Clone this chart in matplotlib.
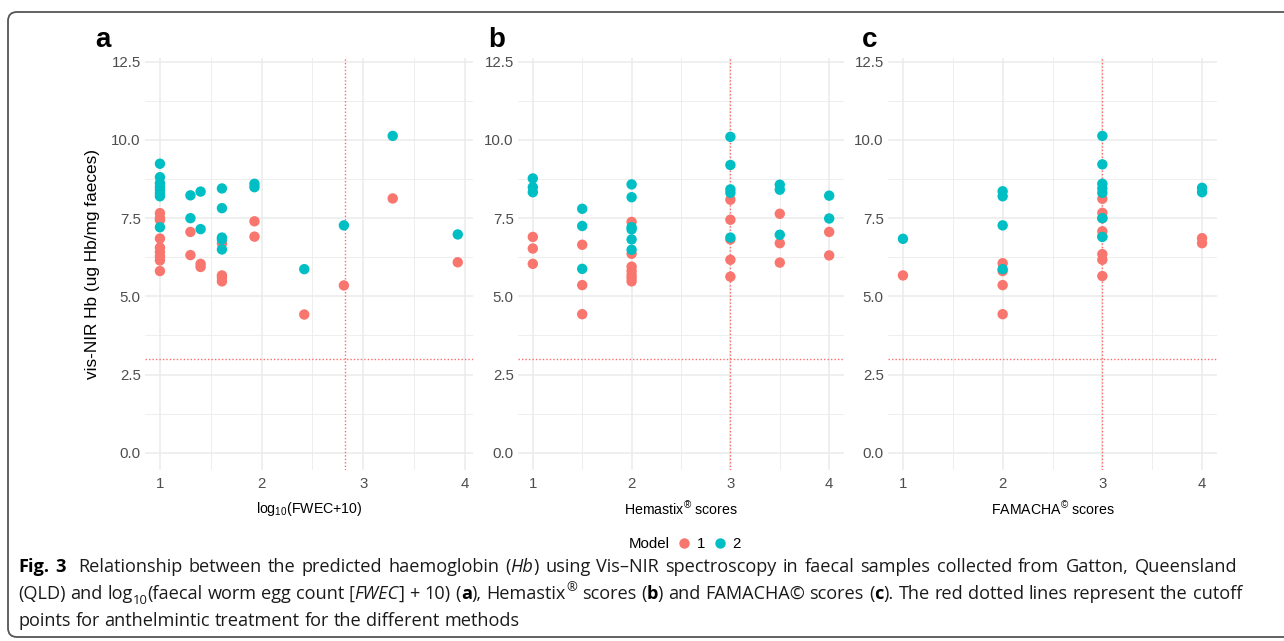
import matplotlib
matplotlib.use("Agg")
import matplotlib.pyplot as plt
from matplotlib.patches import FancyBboxPatch
from matplotlib.lines import Line2D
from matplotlib.transforms import IdentityTransform
from matplotlib import font_manager
import numpy as np

W, H = 1284, 641
DPI = 100

# ---------------- data ----------------
# Panel a: log10(FWEC+10)
a_m1_x = [1, 1, 1, 1, 1, 1, 1, 1, 1, 1.3, 1.3, 1.4, 1.4, 1.61, 1.61, 1.61, 1.61,
          1.93, 1.93, 2.42, 2.81, 3.29, 3.93]
a_m1_y = [7.66, 7.50, 7.44, 6.85, 6.56, 6.42, 6.28, 6.15, 5.81, 7.06, 6.32, 6.04, 5.94,
          6.69, 5.67, 5.59, 5.48, 7.40, 6.91, 4.42, 5.35, 8.13, 6.09]
a_m2_x = [1, 1, 1, 1, 1, 1, 1, 1, 1.3, 1.3, 1.4, 1.4, 1.61, 1.61, 1.61, 1.61, 1.61,
          1.93, 1.93, 2.42, 2.81, 3.29, 3.93]
a_m2_y = [9.24, 8.81, 8.62, 8.50, 8.40, 8.30, 8.20, 7.21, 8.23, 7.50, 8.35, 7.15,
          8.45, 7.82, 6.88, 6.82, 6.50, 8.60, 8.49, 5.87, 7.27, 10.13, 6.98]

# Panel b: Hemastix scores
b_m1_x = [1, 1, 1, 1.5, 1.5, 1.5, 2, 2, 2, 2, 2, 2, 2, 3, 3, 3, 3, 3, 3.5, 3.5, 3.5, 4, 4]
b_m1_y = [6.90, 6.53, 6.04, 6.65, 5.36, 4.43, 7.38, 6.36, 5.95, 5.82, 5.69, 5.59, 5.48,
          8.09, 7.45, 6.82, 6.17, 5.63, 7.64, 6.70, 6.08, 7.06, 6.31]
b_m2_x = [1, 1, 1, 1.5, 1.5, 1.5, 2, 2, 2, 2, 2, 2, 3, 3, 3, 3, 3, 3.5, 3.5, 3.5, 4, 4]
b_m2_y = [8.77, 8.49, 8.33, 7.80, 7.25, 5.88, 8.58, 8.17, 7.21, 7.14, 6.82, 6.49,
          10.10, 9.20, 8.42, 8.31, 6.88, 8.57, 8.41, 6.97, 8.22, 7.49]

# Panel c: FAMACHA scores
c_m1_x = [1, 2, 2, 2, 2, 3, 3, 3, 3, 3, 3, 3, 3, 4, 4]
c_m1_y = [5.67, 6.06, 5.81, 5.36, 4.43, 8.12, 7.67, 7.50, 7.08, 6.92, 6.35, 6.17, 5.65,
          6.86, 6.70]
c_m2_x = [1, 2, 2, 2, 2, 3, 3, 3, 3, 3, 3, 3, 4, 4]
c_m2_y = [6.84, 8.36, 8.20, 7.27, 5.87, 10.13, 9.22, 8.60, 8.45, 8.31, 7.50, 6.90,
          8.47, 8.33]

hb_cutoff = 3.0
x_cutoffs = [2.82, 3.0, 3.0]
panel_letters = ["a", "b", "c"]
x_titles = [r"log$\mathregular{_{10}}$(FWEC+10)",
            r"Hemastix$\mathregular{^{®}}$ scores",
            r"FAMACHA$\mathregular{^{©}}$ scores"]
y_title = "vis-NIR Hb (ug Hb/mg faeces)"
model_labels = ["1", "2"]
x_ticks = [1, 2, 3, 4]
y_ticks = [0.0, 2.5, 5.0, 7.5, 10.0, 12.5]

COL1 = "#F8766D"
COL2 = "#00BFC4"
LINE_COL = "#FF6B6B"
GRID = "#EBEBEB"
TICKCOL = "#4D4D4D"

plt.rcParams["font.family"] = ["Liberation Sans", "DejaVu Sans"]
plt.rcParams["mathtext.fontset"] = "custom"
plt.rcParams["mathtext.rm"] = "Liberation Sans"

fig = plt.figure(figsize=(W / DPI, H / DPI), dpi=DPI)

# border frame
frame = FancyBboxPatch((8, 641 - 637), 1320, 637 - 12,
                       boxstyle="round,pad=0,rounding_size=9",
                       transform=IdentityTransform(), facecolor="none",
                       edgecolor="#555555", linewidth=1.3)
fig.patches.append(frame)

def ax_rect(l, r, t, b):
    return [l / W, 1 - b / H, (r - l) / W, (b - t) / H]

panels = [
    (ax_rect(145, 473, 58, 470), (0.853, 4.08), a_m1_x, a_m1_y, a_m2_x, a_m2_y),
    (ax_rect(518, 844, 58, 470), (0.85, 4.15), b_m1_x, b_m1_y, b_m2_x, b_m2_y),
    (ax_rect(888, 1217, 58, 470), (0.85, 4.15), c_m1_x, c_m1_y, c_m2_x, c_m2_y),
]
letter_x = [103, 497, 870]

axes = []
for i, (rect, xl, x1, y1, x2, y2) in enumerate(panels):
    ax = fig.add_axes(rect)
    axes.append(ax)
    ax.set_xlim(*xl)
    ax.set_ylim(-0.55, 12.62)
    ax.set_xticks(x_ticks)
    ax.set_yticks(y_ticks)
    ax.set_yticklabels([f"{v:.1f}" for v in y_ticks])
    ax.set_xticks([1.5, 2.5, 3.5], minor=True)
    ax.set_yticks([1.25, 3.75, 6.25, 8.75, 11.25], minor=True)
    ax.grid(which="major", color=GRID, linewidth=1.1, zorder=0)
    ax.grid(which="minor", color=GRID, linewidth=0.6, zorder=0)
    ax.set_axisbelow(True)
    for s in ax.spines.values():
        s.set_visible(False)
    ax.tick_params(which="both", length=0)
    ax.tick_params(axis="x", pad=5, labelsize=10.8, labelcolor=TICKCOL)
    ax.tick_params(axis="y", pad=3, labelsize=10.8, labelcolor=TICKCOL)
    ax.axhline(hb_cutoff, color=LINE_COL, lw=1.0, ls=(0, (1, 1.5)), zorder=1)
    ax.axvline(x_cutoffs[i], color=LINE_COL, lw=1.0, ls=(0, (1, 1.5)), zorder=1)
    ax.scatter(x1, y1, s=56, color=COL1, edgecolors="none", zorder=3)
    ax.scatter(x2, y2, s=56, color=COL2, edgecolors="none", zorder=4)
    ax.set_xlabel(x_titles[i], fontsize=10.2, color="black")
    ax.xaxis.set_label_coords(0.5, -(509 - 470) / 412)
    ax.xaxis.label.set_va("center")
    fig.text(letter_x[i] / W, 1 - 40 / H, panel_letters[i], fontsize=20,
             fontweight="bold", ha="center", va="center")

axes[0].set_ylabel(y_title, fontsize=12.4, color="black")
axes[0].yaxis.set_label_coords((92 - 145) / 328, 0.5)
axes[0].yaxis.label.set_va("center")

# legend
ly = 1 - 542.5 / H
fig.text(629 / W, ly - 1.0 / H, "Model", fontsize=10.8, ha="left", va="center")
fig.add_artist(Line2D([683.5 / W], [ly], marker="o", markersize=7.5, color=COL1,
                      markeredgewidth=0, linestyle="none", transform=fig.transFigure))
fig.text(701.5 / W, ly - 1.0 / H, model_labels[0], fontsize=10.8, ha="center", va="center")
fig.add_artist(Line2D([720 / W], [ly], marker="o", markersize=7.5, color=COL2,
                      markeredgewidth=0, linestyle="none", transform=fig.transFigure))
fig.text(736.5 / W, ly - 1.0 / H, model_labels[1], fontsize=10.8, ha="center", va="center")

# caption with mixed styles
renderer = fig.canvas.get_renderer()
_names = {f.name for f in font_manager.fontManager.ttflist}
if "Liberation Sans Narrow" in _names:
    CAP_FAMILY = ["Liberation Sans Narrow", "DejaVu Sans"]
else:
    CAP_FAMILY = ["Open Sans", "DejaVu Sans"]

def props(style, size):
    kw = dict(fontsize=size, family=CAP_FAMILY, color="#1a1a1a")
    if style == "b":
        kw["fontweight"] = "bold"
        kw["color"] = "black"
    if style == "i":
        kw["fontstyle"] = "italic"
    if style in ("sub", "sup"):
        kw["fontsize"] = size * 0.72
    return kw

_cache = {}
def advance(text, kw):
    key = (text, tuple(sorted((k, str(v)) for k, v in kw.items())))
    if key in _cache:
        return _cache[key]
    t1 = fig.text(0, 0, "|" + text + "|", **kw)
    t2 = fig.text(0, 0, "||", **kw)
    w = t1.get_window_extent(renderer).width - t2.get_window_extent(renderer).width
    t1.remove(); t2.remove()
    _cache[key] = w
    return w

def line_width(segs, size):
    return sum(advance(t, props(s, size)) for t, s in segs)

def draw_line(segs, x0, base, size, target=None):
    extra = 0.0
    if target is not None:
        nsp = sum(t.count(" ") for t, s in segs)
        extra = max(0.0, (target - line_width(segs, size)) / max(nsp, 1))
    x = x0
    for text, style in segs:
        kw = props(style, size)
        dy = 0
        if style == "sub":
            dy = -size * 0.28 * DPI / 72
        if style == "sup":
            dy = size * 0.42 * DPI / 72
        pieces = text.split(" ")
        sp = advance(" ", kw)
        for j, p in enumerate(pieces):
            if p:
                fig.text(x / W, 1 - (base - dy) / H, p, ha="left", va="baseline", **kw)
                x += advance(p, kw)
            if j < len(pieces) - 1:
                x += sp + extra

line1 = [("Fig. 3", "b"),
         ("  Relationship between the predicted haemoglobin (", "n"), ("Hb", "i"),
         (") using Vis–NIR spectroscopy in faecal samples collected from Gatton, Queensland", "n")]
line2 = [("(QLD) and log", "n"), ("10", "sub"), ("(faecal worm egg count [", "n"),
         ("FWEC", "i"), ("] + 10) (", "n"), ("a", "b"), ("), Hemastix", "n"), ("®", "sup"),
         (" scores (", "n"), ("b", "b"), (") and FAMACHA© scores (", "n"), ("c", "b"),
         ("). The red dotted lines represent the cutoff", "n")]
line3 = [("points for anthelmintic treatment for the different methods", "n")]

target = 1237 - 18
base_size = 12.0
wmax = max(line_width(line1, base_size), line_width(line2, base_size))
cap_size = min(13.2, base_size * (target / wmax))
draw_line(line1, 18, 572, cap_size, target)
draw_line(line2, 18, 599, cap_size, target)
draw_line(line3, 18, 626, cap_size)

fig.savefig("out.png", dpi=DPI)
